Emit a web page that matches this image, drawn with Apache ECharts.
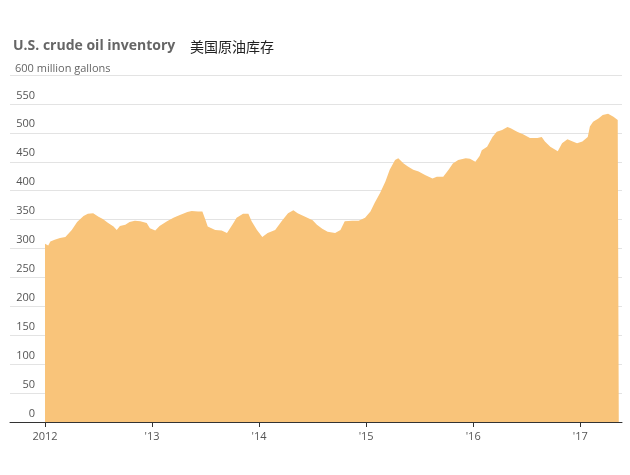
<!DOCTYPE html>
<html><head><meta charset="utf-8">
<script src="https://cdn.jsdelivr.net/npm/echarts@6/dist/echarts.min.js"></script>
<style>html,body{margin:0;padding:0;background:#fff}#c{width:630px;height:475px}</style>
</head><body><div id="c"></div>
<script>
var years = [2012.00,2012.03,2012.05,2012.09,2012.14,2012.19,2012.25,2012.30,2012.36,2012.40,2012.45,2012.50,2012.54,2012.59,2012.64,2012.67,2012.70,2012.75,2012.79,2012.84,2012.89,2012.95,2012.98,
2013.03,2013.07,2013.14,2013.20,2013.26,2013.33,2013.37,2013.43,2013.47,2013.50,2013.52,2013.59,2013.65,2013.70,2013.75,2013.79,2013.85,2013.90,2013.93,2013.98,
2014.03,2014.08,2014.15,2014.21,2014.27,2014.32,2014.36,2014.43,2014.50,2014.54,2014.59,2014.64,2014.71,2014.76,2014.80,2014.87,2014.93,2014.99,
2015.04,2015.08,2015.13,2015.18,2015.22,2015.27,2015.30,2015.35,2015.39,2015.44,2015.49,2015.55,2015.62,2015.66,2015.72,2015.77,2015.81,2015.86,2015.93,2015.97,
2016.02,2016.06,2016.08,2016.13,2016.18,2016.22,2016.27,2016.32,2016.35,2016.41,2016.47,2016.53,2016.60,2016.64,2016.67,2016.72,2016.79,2016.83,2016.88,2016.93,2016.97,
2017.02,2017.07,2017.09,2017.12,2017.17,2017.21,2017.26,2017.31,2017.35,2017.36];
var inventory = [308,305,312,315,318,320,332,346,356,360,361,355,351,344,338,332,339,341,346,348,347,344,335,
331,339,347,353,358,363,365,364,364,349,338,332,331,327,341,353,360,360,347,332,
320,327,332,347,361,366,361,355,349,341,334,329,327,332,347,348,348,353,
364,379,396,416,436,453,456,447,442,436,433,427,421,424,424,436,447,453,456,455,
450,460,470,476,493,502,505,510,508,502,497,491,491,493,485,476,468,482,489,485,482,
485,493,511,519,525,531,533,528,522,519];
var tickYears = [2012,2013,2014,2015,2016,2017];
var tickLabels = ['2012',"'13","'14","'15","'16","'17"];
var yTicks = [0,50,100,150,200,250,300,350,400,450,500,550];

var chart = echarts.init(document.getElementById('c'));
var data = years.map(function(y,i){return [y, inventory[i]];});
chart.setOption({
  animation:false,
  backgroundColor:'#fff',
  title:[
    {text:'U.S. crude oil inventory',left:8,top:34,textStyle:{fontFamily:'Open Sans',fontWeight:'bold',fontSize:14,color:'#666'}},
    {text:'美国原油库存',left:185,top:35,textStyle:{fontFamily:'Noto Sans CJK SC',fontWeight:'normal',fontSize:14,color:'#222'}},
    {text:'600 million gallons',left:10,top:58,textStyle:{fontFamily:'Open Sans',fontWeight:'normal',fontSize:11,color:'#666'}}
  ],
  grid:{left:10,right:8,top:75,bottom:53,containLabel:false},
  xAxis:{
    type:'value',min:2011.673,max:2017.39,
    axisLine:{show:true,lineStyle:{color:'#333',width:1}},
    axisTick:{show:true,customValues:tickYears,length:5,lineStyle:{color:'#333'}},
    axisLabel:{customValues:tickYears,margin:9,fontFamily:'Open Sans',fontSize:11,color:'#555',
      formatter:function(v){var i=tickYears.indexOf(Math.round(v));return i>=0?tickLabels[i]:'';}},
    splitLine:{show:false}
  },
  yAxis:{
    type:'value',min:0,max:600,interval:50,
    axisLine:{show:false},axisTick:{show:false},
    splitLine:{show:true,lineStyle:{color:'#e3e3e3',width:1}},
    axisLabel:{margin:-25,align:'right',verticalAlign:'bottom',padding:[0,0,3,0],fontFamily:'Open Sans',fontSize:11,color:'#555',
      formatter:function(v){return yTicks.indexOf(v)>=0?String(v):'';}}
  },
  series:[{
    type:'line',data:data,showSymbol:false,
    lineStyle:{width:0,color:'#f9c47a'},
    areaStyle:{color:'#f9c47a',opacity:1},
    itemStyle:{color:'#f9c47a'}
  }]
});
</script></body></html>
